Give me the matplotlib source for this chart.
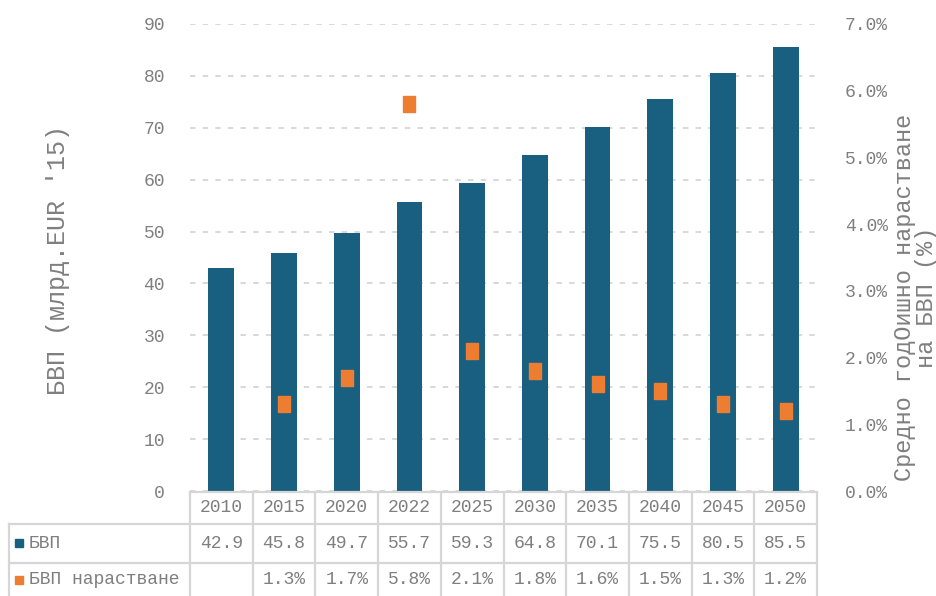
import numpy as np
import matplotlib
matplotlib.use("Agg")
import matplotlib.pyplot as plt
from matplotlib.lines import Line2D
from matplotlib.patches import Rectangle

years = ["2010", "2015", "2020", "2022", "2025", "2030", "2035", "2040", "2045", "2050"]
gdp = [42.9, 45.8, 49.7, 55.7, 59.3, 64.8, 70.1, 75.5, 80.5, 85.5]
growth = [np.nan, 1.3, 1.7, 5.8, 2.1, 1.8, 1.6, 1.5, 1.3, 1.2]

BAR_COLOR = "#185f80"
DOT_COLOR = "#ed7d31"
TEXT = "#7f7f7f"
GRID = "#d6d6d6"
FONT = "Liberation Mono"

W, H = 937, 596
plt.rcParams["font.family"] = [FONT, "DejaVu Sans Mono"]


def fx(x):
    return x / W


def fy(y):
    return 1 - y / H


fig = plt.figure(figsize=(W / 100, H / 100), dpi=100)

# plot area in pixels: left 190, right 817, top 24, bottom 491
ax = fig.add_axes([fx(190), fy(491), (817 - 190) / W, (491 - 24) / H])
x = np.arange(len(years))
ax.bar(x, gdp, width=0.41, color=BAR_COLOR, zorder=2)
ax.set_xlim(-0.5, 9.5)
ax.set_ylim(0, 90)
ax.set_yticks(range(0, 91, 10))
ax.set_xticks([])
ax.grid(axis="y", color=GRID, linestyle=(0, (3, 4)), linewidth=1.3, zorder=0)
ax.tick_params(axis="y", length=0, pad=18, labelsize=13, labelcolor=TEXT)
for s in ax.spines.values():
    s.set_visible(False)

ax2 = ax.twinx()
ax2.set_ylim(0, 7)
ax2.set_yticks(range(0, 8))
ax2.set_yticklabels([f"{v:.1f}%" for v in range(0, 8)])
ax2.tick_params(axis="y", length=0, pad=20, labelsize=13, labelcolor=TEXT)
for s in ax2.spines.values():
    s.set_visible(False)
rect = [(-0.4, -0.5), (0.4, -0.5), (0.4, 0.5), (-0.4, 0.5), (-0.4, -0.5)]
ax2.plot(x, growth, linestyle="none", marker=rect, markersize=11,
         color=DOT_COLOR, zorder=3)

fig.text(fx(58), fy(260), "БВП (млрд.EUR '15)", rotation=90,
         ha="center", va="center", fontsize=18, color=TEXT)
fig.text(fx(905), fy(297), "Средно годОишно нарастване", rotation=90,
         ha="center", va="center", fontsize=17, color=TEXT)
fig.text(fx(927), fy(297), "на БВП (%)", rotation=90,
         ha="center", va="center", fontsize=17, color=TEXT)

# data table under the plot
col_w = (817 - 190) / len(years)
edges = [190 + i * col_w for i in range(len(years) + 1)]
rows = [492, 524, 563, 600]
lw = 1.6


def hline(y, x0, x1):
    fig.add_artist(Line2D([fx(x0), fx(x1)], [fy(y), fy(y)], color=GRID, lw=lw))


def vline(xp, y0, y1):
    fig.add_artist(Line2D([fx(xp), fx(xp)], [fy(y0), fy(y1)], color=GRID, lw=lw))


hline(rows[0], edges[0], edges[-1])
hline(rows[1], 9, edges[-1])
hline(rows[2], 9, edges[-1])
vline(9, rows[1], rows[3])
for e in edges:
    vline(e, rows[0], rows[3])

for i, yr in enumerate(years):
    cx = (edges[i] + edges[i + 1]) / 2
    fig.text(fx(cx), fy((rows[0] + rows[1]) / 2), yr, ha="center",
             va="center", fontsize=13, color=TEXT)
    fig.text(fx(cx), fy((rows[1] + rows[2]) / 2), f"{gdp[i]:.1f}",
             ha="center", va="center", fontsize=13, color=TEXT)
    if not np.isnan(growth[i]):
        fig.text(fx(cx), fy(580), f"{growth[i]:.1f}%", ha="center",
                 va="center", fontsize=13, color=TEXT)

for yc, color, label in [(543, BAR_COLOR, "БВП"), (580, DOT_COLOR, "БВП нарастване")]:
    fig.add_artist(Rectangle((fx(15), fy(yc + 4)), 8 / W, 8 / H,
                             color=color, transform=fig.transFigure))
    fig.text(fx(29), fy(yc), label, ha="left", va="center",
             fontsize=13, color=TEXT)

fig.savefig("out.png", dpi=100)
